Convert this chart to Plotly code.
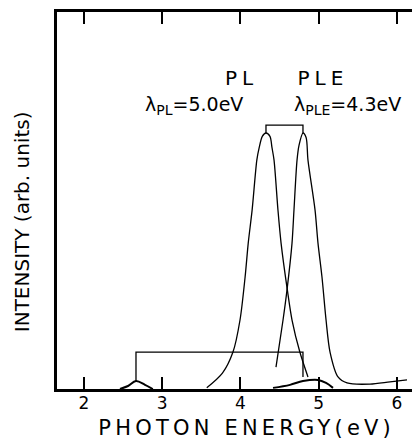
import plotly.graph_objects as go

# --- data (photon energy in eV, intensity in arb. units) ---
pl_energy = [3.57, 3.77, 3.905, 3.995, 4.06, 4.10, 4.15, 4.21, 4.24, 4.28, 4.327,
             4.378, 4.404, 4.43, 4.48, 4.52, 4.60, 4.66, 4.76, 4.864]
pl_intensity = [0.003, 0.042, 0.098, 0.183, 0.297, 0.387, 0.475, 0.607, 0.64, 0.67, 0.679,
                0.67, 0.64, 0.607, 0.475, 0.387, 0.263, 0.183, 0.098, 0.032]

ple_energy = [4.455, 4.545, 4.596, 4.66, 4.685, 4.724, 4.75, 4.80, 4.84, 4.864, 4.954,
              4.992, 5.043, 5.095, 5.146, 5.248, 5.363, 5.657, 5.913, 6.13]
ple_intensity = [0.058, 0.183, 0.263, 0.387, 0.475, 0.607, 0.647, 0.679, 0.667, 0.607, 0.475,
                 0.387, 0.297, 0.183, 0.098, 0.032, 0.016, 0.013, 0.019, 0.024]

bump_low_energy = [2.46, 2.563, 2.665, 2.78, 2.88]
bump_low_intensity = [0.0, 0.008, 0.021, 0.011, 0.0]

bump_high_energy = [4.417, 4.634, 4.80, 4.992, 5.095, 5.184]
bump_high_intensity = [0.003, 0.011, 0.021, 0.024, 0.016, 0.003]

# brackets linking the bands
top_bracket_energy = [4.327, 4.327, 4.80, 4.80]
top_bracket_intensity = [0.679, 0.700, 0.700, 0.679]
low_bracket_energy = [2.665, 2.665, 4.80, 4.80]
low_bracket_intensity = [0.021, 0.098, 0.098, 0.032]

x_ticks = [2, 3, 4, 5, 6]
x_tick_labels = ["2", "3", "4", "5", "6"]

x_title = "PHOTON ENERGY(eV)"
y_title = "INTENSITY (arb. units)"

FONT = "DejaVu Sans"

fig = go.Figure()
thin = dict(color="black", width=1.3)
fig.add_trace(go.Scatter(x=pl_energy, y=pl_intensity, mode="lines",
                         line=dict(color="black", width=1.3, shape="spline", smoothing=0.8)))
fig.add_trace(go.Scatter(x=ple_energy, y=ple_intensity, mode="lines",
                         line=dict(color="black", width=1.3, shape="spline", smoothing=0.8)))
fig.add_trace(go.Scatter(x=bump_low_energy, y=bump_low_intensity, mode="lines",
                         line=dict(color="black", width=2, shape="spline")))
fig.add_trace(go.Scatter(x=bump_high_energy, y=bump_high_intensity, mode="lines",
                         line=dict(color="black", width=2, shape="spline")))
fig.add_trace(go.Scatter(x=top_bracket_energy, y=top_bracket_intensity, mode="lines", line=thin))
fig.add_trace(go.Scatter(x=low_bracket_energy, y=low_bracket_intensity, mode="lines", line=thin))

fig.add_annotation(x=4.02, y=0.825, xref="x", yref="y", text="PL", showarrow=False,
                   xanchor="center", yanchor="middle",
                   font=dict(family=FONT, size=20, color="black"))
fig.add_annotation(x=5.056, y=0.825, xref="x", yref="y", text="PLE", showarrow=False,
                   xanchor="center", yanchor="middle",
                   font=dict(family=FONT, size=20, color="black"))
fig.add_annotation(x=2.754, y=0.752, xref="x", yref="y", xanchor="left", yanchor="middle",
                   text='λ<sub><span style="font-size:14px">PL</span></sub>=5.0eV', showarrow=False,
                   font=dict(family=FONT, size=19, color="black"))
fig.add_annotation(x=4.66, y=0.752, xref="x", yref="y", xanchor="left", yanchor="middle",
                   text='λ<sub><span style="font-size:14px">PLE</span></sub>=4.3eV', showarrow=False,
                   font=dict(family=FONT, size=19, color="black"))
# axis titles
fig.add_annotation(x=0.535, y=-0.104, xref="paper", yref="paper", text=x_title,
                   xanchor="center", yanchor="middle",
                   showarrow=False, font=dict(family=FONT, size=21, color="black"))
fig.add_annotation(x=-0.0986, y=0.445, xref="paper", yref="paper", text=y_title,
                   xanchor="center", yanchor="middle",
                   textangle=-90, showarrow=False, font=dict(family=FONT, size=20, color="black"))

fig.update_layout(
    width=412, height=444,
    margin=dict(l=57, r=0, t=12, b=55),
    paper_bgcolor="white", plot_bgcolor="white",
    showlegend=False,
    font=dict(family=FONT, color="black"),
    xaxis=dict(range=[1.655, 6.194], tickvals=x_ticks, ticktext=x_tick_labels,
               ticks="inside", ticklen=12, tickwidth=2, tickcolor="black",
               showline=True, linecolor="black", linewidth=2.5, mirror="ticks",
               showgrid=False, zeroline=False, ticklabelstandoff=-3,
               tickfont=dict(family=FONT, size=17)),
    yaxis=dict(range=[0, 1], showticklabels=False, ticks="",
               showline=True, linecolor="black", linewidth=2.5,
               showgrid=False, zeroline=False),
)

post = """
document.body.style.margin = '0';
var gd = document.getElementById('{plot_id}');
function spacing() {
  var t = gd.querySelectorAll('.annotation-text');
  t.forEach(function(e) {
    var s = e.textContent;
    if (s.indexOf('PHOTON') >= 0) e.style.letterSpacing = '4.2px';
    else if (s === 'PL' || s === 'PLE') e.style.letterSpacing = '5px';
  });
}
spacing();
if (gd.on) gd.on('plotly_afterplot', spacing);
"""

fig.write_html("out.html", post_script=post, config={"displayModeBar": False})
